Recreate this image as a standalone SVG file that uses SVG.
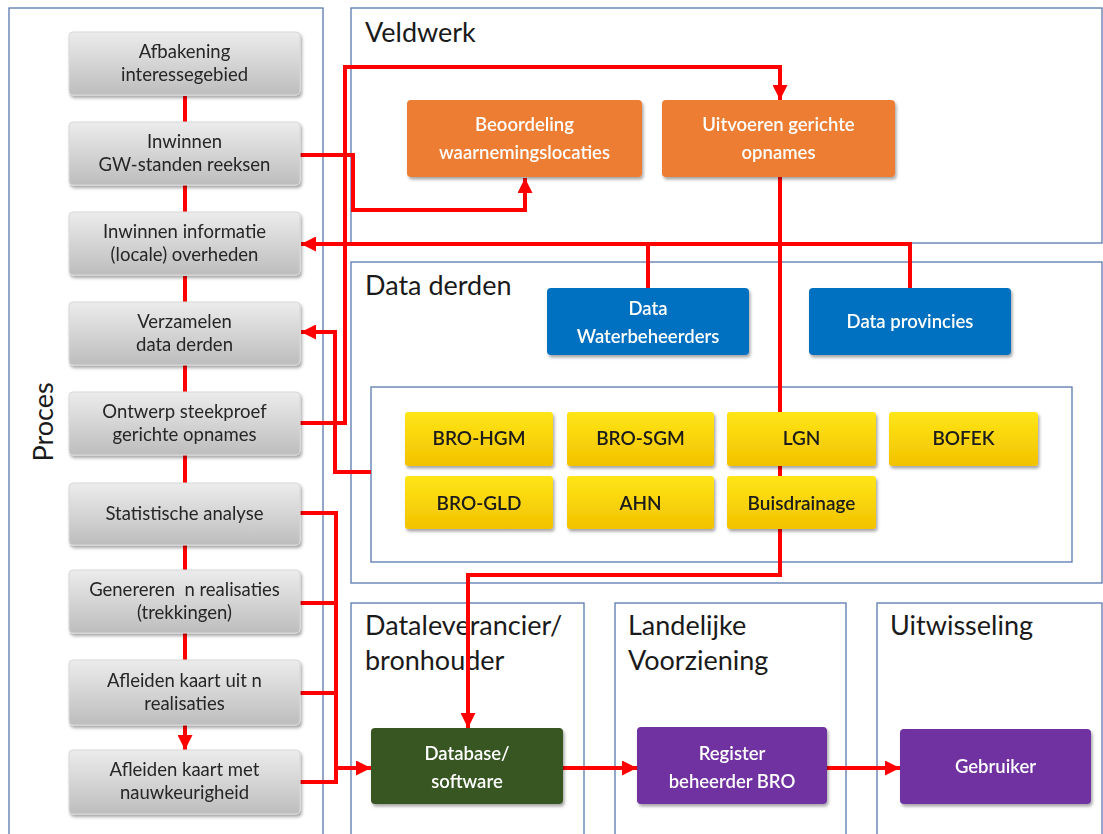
<svg xmlns="http://www.w3.org/2000/svg" width="1103" height="834" viewBox="0 0 1103 834">
  <style>
    .frame{fill:none;stroke:#5a78b0;stroke-width:1.3}
    .title{font-family:Lato,"Liberation Sans",sans-serif;font-size:27px;fill:#1a1a1a}
    .gray rect{fill:url(#gGray);stroke:#d8d8d8;stroke-width:1}
    .gray text{font-family:Lato,"Liberation Sans",sans-serif;font-size:18.5px;fill:#262626;text-anchor:middle;white-space:pre}
    .orange rect{fill:#ed7d31}
    .blue rect{fill:#0070c0}
    .green rect{fill:#375623}
    .purple rect{fill:#7030a0}
    .white text{font-family:Lato,"Liberation Sans",sans-serif;font-size:18.5px;font-weight:600;fill:#fff;text-anchor:middle}
    .yellow rect{fill:url(#gYellow)}
    .yellow text{font-family:Lato,"Liberation Sans",sans-serif;font-size:19px;font-weight:600;fill:#1a1a1a;text-anchor:middle}
    .wire{fill:none;stroke:#ff0000;stroke-width:4;stroke-linejoin:miter}
  </style>
  <defs>
    <linearGradient id="gGray" x1="0" y1="0" x2="0" y2="1">
      <stop offset="0" stop-color="#ececec"/>
      <stop offset="1" stop-color="#bdbdbd"/>
    </linearGradient>
    <linearGradient id="gYellow" x1="0" y1="0" x2="0" y2="1">
      <stop offset="0" stop-color="#ffe617"/>
      <stop offset="1" stop-color="#f2c200"/>
    </linearGradient>
    <filter id="shadow" x="-10%" y="-10%" width="125%" height="130%">
      <feDropShadow dx="1.5" dy="2.5" stdDeviation="1.6" flood-color="#000" flood-opacity="0.35"/>
    </filter>
    <marker id="arrow" viewBox="0 0 10 10" refX="10" refY="5" markerWidth="15" markerHeight="15" markerUnits="userSpaceOnUse" orient="auto">
      <path d="M0,0 L10,5 L0,10 Z" fill="#ff0000"/>
    </marker>
  </defs>

  <rect width="1103" height="834" fill="#ffffff"/>

  <!-- Swimlane frames -->
  <g id="lanes">
    <rect class="frame" x="9" y="8" width="314" height="840"/>
    <rect class="frame" x="351" y="8" width="751" height="235"/>
    <rect class="frame" x="351" y="262" width="751" height="321"/>
    <rect class="frame" x="371" y="387" width="701" height="175"/>
    <rect class="frame" x="351" y="603" width="233" height="245"/>
    <rect class="frame" x="615" y="603" width="231" height="245"/>
    <rect class="frame" x="877" y="603" width="225" height="245"/>
    <text class="title" transform="translate(53 422) rotate(-90)" text-anchor="middle" font-size="28">Proces</text>
    <text class="title" x="365" y="42">Veldwerk</text>
    <text class="title" x="365" y="295">Data derden</text>
    <text class="title" x="365" y="635">Dataleverancier/</text>
    <text class="title" x="365" y="670">bronhouder</text>
    <text class="title" x="628" y="635">Landelijke</text>
    <text class="title" x="628" y="670">Voorziening</text>
    <text class="title" x="890" y="635">Uitwisseling</text>
  </g>

  <!-- Connectors -->
  <g id="connectors">
    <path class="wire" d="M185,96 V122 M185,185 V212 M185,276 V302 M185,365 V392 M185,455 V483 M185,545 V570 M185,633 V660"/>
    <path class="wire" d="M185,725 V750" marker-end="url(#arrow)"/>
    <!-- Ontwerp steekproef -> Uitvoeren gerichte opnames -->
    <path class="wire" d="M300,423 H345 V67 H780 V100" marker-end="url(#arrow)"/>
    <!-- Inwinnen GW-standen -> Beoordeling -->
    <path class="wire" d="M300,155 H353 V210 H525 V178" marker-end="url(#arrow)"/>
    <!-- Uitvoeren gerichte opnames -> Database -->
    <path class="wire" d="M780,177 V575 H468 V728" marker-end="url(#arrow)"/>
    <!-- Data waterbeheerders / provincies -> Inwinnen informatie -->
    <path class="wire" d="M910,288 V244 H301" marker-end="url(#arrow)"/>
    <path class="wire" d="M648,288 V244"/>
    <!-- Data derden -> Verzamelen data derden -->
    <path class="wire" d="M371,472 H335 V332 H301" marker-end="url(#arrow)"/>
    <!-- Analysis steps -> Database -->
    <path class="wire" d="M300,513 H336 V782 H300 M300,603 H336 M300,693 H336"/>
    <path class="wire" d="M334,768 H371" marker-end="url(#arrow)"/>
    <path class="wire" d="M563,768 H637" marker-end="url(#arrow)"/>
    <path class="wire" d="M827,768 H900" marker-end="url(#arrow)"/>
  </g>

  <!-- Process steps -->
  <g id="afbakening" class="gray" filter="url(#shadow)">
    <rect x="69" y="32" width="231" height="63" rx="4"/>
    <text x="184.5" y="58">Afbakening</text><text x="184.5" y="81">interessegebied</text>
  </g>
  <g id="inwinnen-gw" class="gray" filter="url(#shadow)">
    <rect x="69" y="122" width="231" height="63" rx="4"/>
    <text x="184.5" y="148">Inwinnen</text><text x="184.5" y="171">GW-standen reeksen</text>
  </g>
  <g id="inwinnen-info" class="gray" filter="url(#shadow)">
    <rect x="69" y="212" width="231" height="63" rx="4"/>
    <text x="184.5" y="238">Inwinnen informatie</text><text x="184.5" y="261">(locale) overheden</text>
  </g>
  <g id="verzamelen" class="gray" filter="url(#shadow)">
    <rect x="69" y="302" width="231" height="63" rx="4"/>
    <text x="184.5" y="328">Verzamelen</text><text x="184.5" y="351">data derden</text>
  </g>
  <g id="ontwerp" class="gray" filter="url(#shadow)">
    <rect x="69" y="392" width="231" height="63" rx="4"/>
    <text x="184.5" y="418">Ontwerp steekproef</text><text x="184.5" y="441">gerichte opnames</text>
  </g>
  <g id="statistische" class="gray" filter="url(#shadow)">
    <rect x="69" y="483" width="231" height="62" rx="4"/>
    <text x="184.5" y="520">Statistische analyse</text>
  </g>
  <g id="genereren" class="gray" filter="url(#shadow)">
    <rect x="69" y="570" width="231" height="63" rx="4"/>
    <text x="184.5" y="596">Genereren  n realisaties</text><text x="184.5" y="619">(trekkingen)</text>
  </g>
  <g id="afleiden-uit" class="gray" filter="url(#shadow)">
    <rect x="69" y="660" width="231" height="65" rx="4"/>
    <text x="184.5" y="687">Afleiden kaart uit n</text><text x="184.5" y="710">realisaties</text>
  </g>
  <g id="afleiden-met" class="gray" filter="url(#shadow)">
    <rect x="69" y="750" width="231" height="64" rx="4"/>
    <text x="184.5" y="776">Afleiden kaart met</text><text x="184.5" y="799">nauwkeurigheid</text>
  </g>

  <!-- Veldwerk -->
  <g id="beoordeling" class="orange white" filter="url(#shadow)">
    <rect x="407" y="100" width="235" height="77" rx="4"/>
    <text x="524.5" y="131">Beoordeling</text><text x="524.5" y="159">waarnemingslocaties</text>
  </g>
  <g id="uitvoeren" class="orange white" filter="url(#shadow)">
    <rect x="662" y="100" width="233" height="77" rx="4"/>
    <text x="778.5" y="131">Uitvoeren gerichte</text><text x="778.5" y="159">opnames</text>
  </g>

  <!-- Data derden -->
  <g id="waterbeheerders" class="blue white" filter="url(#shadow)">
    <rect x="547" y="288" width="202" height="67" rx="4"/>
    <text x="648" y="315">Data</text><text x="648" y="343">Waterbeheerders</text>
  </g>
  <g id="provincies" class="blue white" filter="url(#shadow)">
    <rect x="809" y="288" width="202" height="67" rx="4"/>
    <text x="910" y="328">Data provincies</text>
  </g>
  <g id="bro-hgm" class="yellow" filter="url(#shadow)">
    <rect x="405" y="412" width="148" height="54" rx="3"/><text x="479" y="445">BRO-HGM</text>
  </g>
  <g id="bro-sgm" class="yellow" filter="url(#shadow)">
    <rect x="567" y="412" width="147" height="54" rx="3"/><text x="640.5" y="445">BRO-SGM</text>
  </g>
  <g id="lgn" class="yellow" filter="url(#shadow)">
    <rect x="727" y="412" width="149" height="54" rx="3"/><text x="801.5" y="445">LGN</text>
  </g>
  <g id="bofek" class="yellow" filter="url(#shadow)">
    <rect x="889" y="412" width="149" height="54" rx="3"/><text x="963.5" y="445">BOFEK</text>
  </g>
  <g id="bro-gld" class="yellow" filter="url(#shadow)">
    <rect x="405" y="476" width="148" height="53" rx="3"/><text x="479" y="510">BRO-GLD</text>
  </g>
  <g id="ahn" class="yellow" filter="url(#shadow)">
    <rect x="567" y="476" width="147" height="53" rx="3"/><text x="640.5" y="510">AHN</text>
  </g>
  <g id="buisdrainage" class="yellow" filter="url(#shadow)">
    <rect x="727" y="476" width="149" height="53" rx="3"/><text x="801.5" y="510">Buisdrainage</text>
  </g>

  <!-- Delivery chain -->
  <g id="database" class="green white" filter="url(#shadow)">
    <rect x="371" y="728" width="192" height="76" rx="4"/>
    <text x="467" y="760">Database/</text><text x="467" y="788">software</text>
  </g>
  <g id="register" class="purple white" filter="url(#shadow)">
    <rect x="637" y="727" width="190" height="77" rx="4"/>
    <text x="732" y="760">Register</text><text x="732" y="788">beheerder BRO</text>
  </g>
  <g id="gebruiker" class="purple white" filter="url(#shadow)">
    <rect x="900" y="729" width="191" height="75" rx="4"/>
    <text x="995.5" y="773">Gebruiker</text>
  </g>
</svg>
